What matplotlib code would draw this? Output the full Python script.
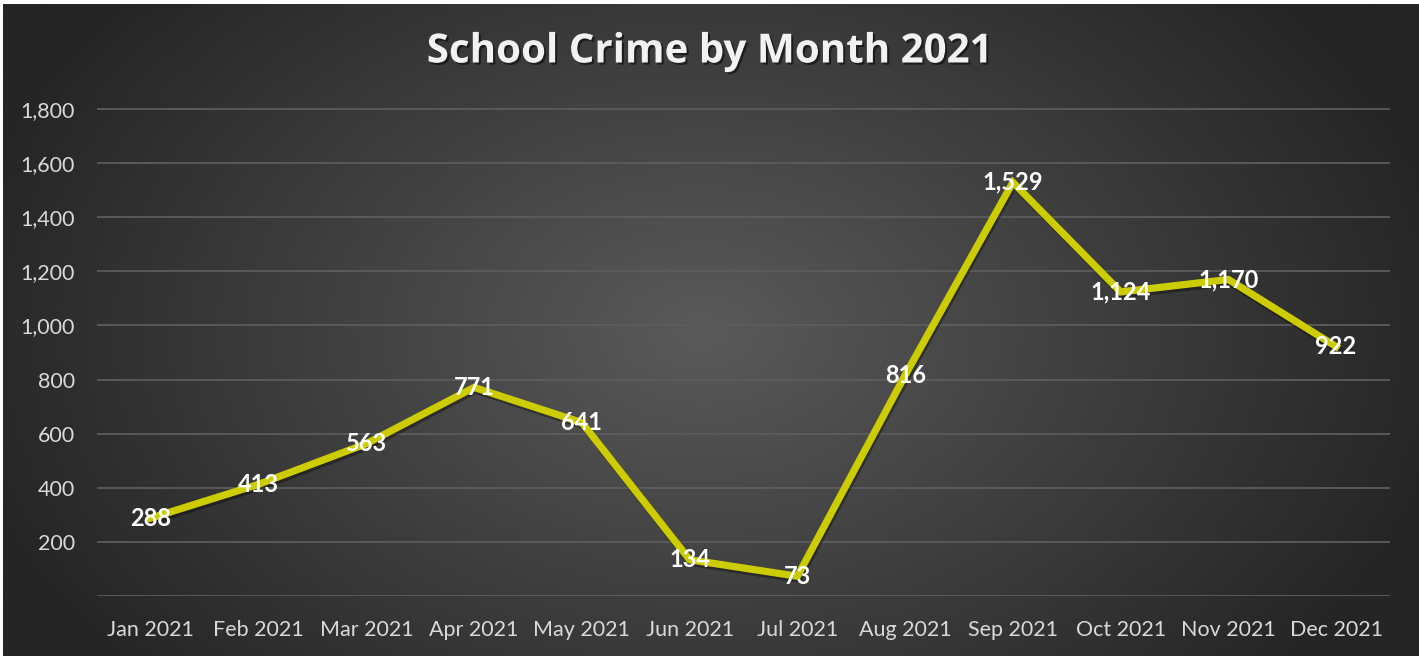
import numpy as np
import matplotlib
matplotlib.use("Agg")
import matplotlib.pyplot as plt
import matplotlib.patheffects as pe
from matplotlib.ticker import FuncFormatter, FixedLocator

months = ["Jan 2021", "Feb 2021", "Mar 2021", "Apr 2021", "May 2021", "Jun 2021",
          "Jul 2021", "Aug 2021", "Sep 2021", "Oct 2021", "Nov 2021", "Dec 2021"]
crimes = [288, 413, 563, 771, 641, 134, 73, 816, 1529, 1124, 1170, 922]
yticks = [200, 400, 600, 800, 1000, 1200, 1400, 1600, 1800]
title = "School Crime by Month 2021"

W, H = 1419, 656
fig = plt.figure(figsize=(W / 100, H / 100), dpi=100)
fig.patch.set_facecolor("white")

# radial gradient background (chart area starts after thin white border)
bg = fig.add_axes([3 / W, 0, (W - 3) / W, (H - 4) / H])
yy, xx = np.mgrid[0:H, 0:W]
cx, cy = 700, 330
r = np.sqrt(((xx - cx) / 760.0) ** 2 + ((yy - cy) / 520.0) ** 2)
r = np.clip(r, 0, 1)
inner = np.array([0x5a, 0x5a, 0x5a]) / 255.0
outer = np.array([0x25, 0x25, 0x25]) / 255.0
img = inner[None, None, :] * (1 - r[..., None]) + outer[None, None, :] * r[..., None]
bg.imshow(img, extent=[0, W, H, 0], aspect="auto")
bg.set_xlim(0, W)
bg.set_ylim(H, 0)
bg.axis("off")

ax = fig.add_axes([97 / W, 1 - 596 / H, (1390 - 97) / W, (596 - 82) / H])
ax.patch.set_alpha(0)
x = np.arange(len(months))
ax.set_xlim(-0.5, len(months) - 0.5)
ax.set_ylim(0, 1900)

for v in yticks:
    ax.axhline(v, color="#5c5c5c", lw=1.3, zorder=1)
ax.axhline(0, color="#5c5c5c", lw=1.3, zorder=1)

ax.plot(x, crimes, color="#CCCC00", lw=5.2, solid_joinstyle="miter", zorder=3,
        path_effects=[pe.SimpleLineShadow(offset=(1, -2), shadow_color="black", alpha=0.35),
                      pe.Normal()])

for xi, v in zip(x, crimes):
    ax.text(xi, v, f"{v:,}", ha="center", va="center", color="white",
            fontsize=17, fontweight="bold", family="Lato", zorder=5)

ax.yaxis.set_major_locator(FixedLocator(yticks))
ax.yaxis.set_major_formatter(FuncFormatter(lambda v, p: f"{int(v):,}"))
ax.set_xticks(x)
ax.set_xticklabels(months)
ax.tick_params(axis="both", length=0, colors="#D9D9D9", labelsize=15.5)
ax.tick_params(axis="x", pad=17)
ax.tick_params(axis="y", pad=16)
for lbl in ax.get_xticklabels() + ax.get_yticklabels():
    lbl.set_family("Lato")
for s in ax.spines.values():
    s.set_visible(False)

fig.text(709 / W, 1 - 52 / H, title, ha="center", va="center", color="#F2F2F2",
         fontsize=29, fontweight="bold", family="Open Sans",
         path_effects=[pe.withSimplePatchShadow(offset=(1.5, -1.5), shadow_rgbFace="black", alpha=0.5)])

fig.savefig("out.png", dpi=100, facecolor="white")
